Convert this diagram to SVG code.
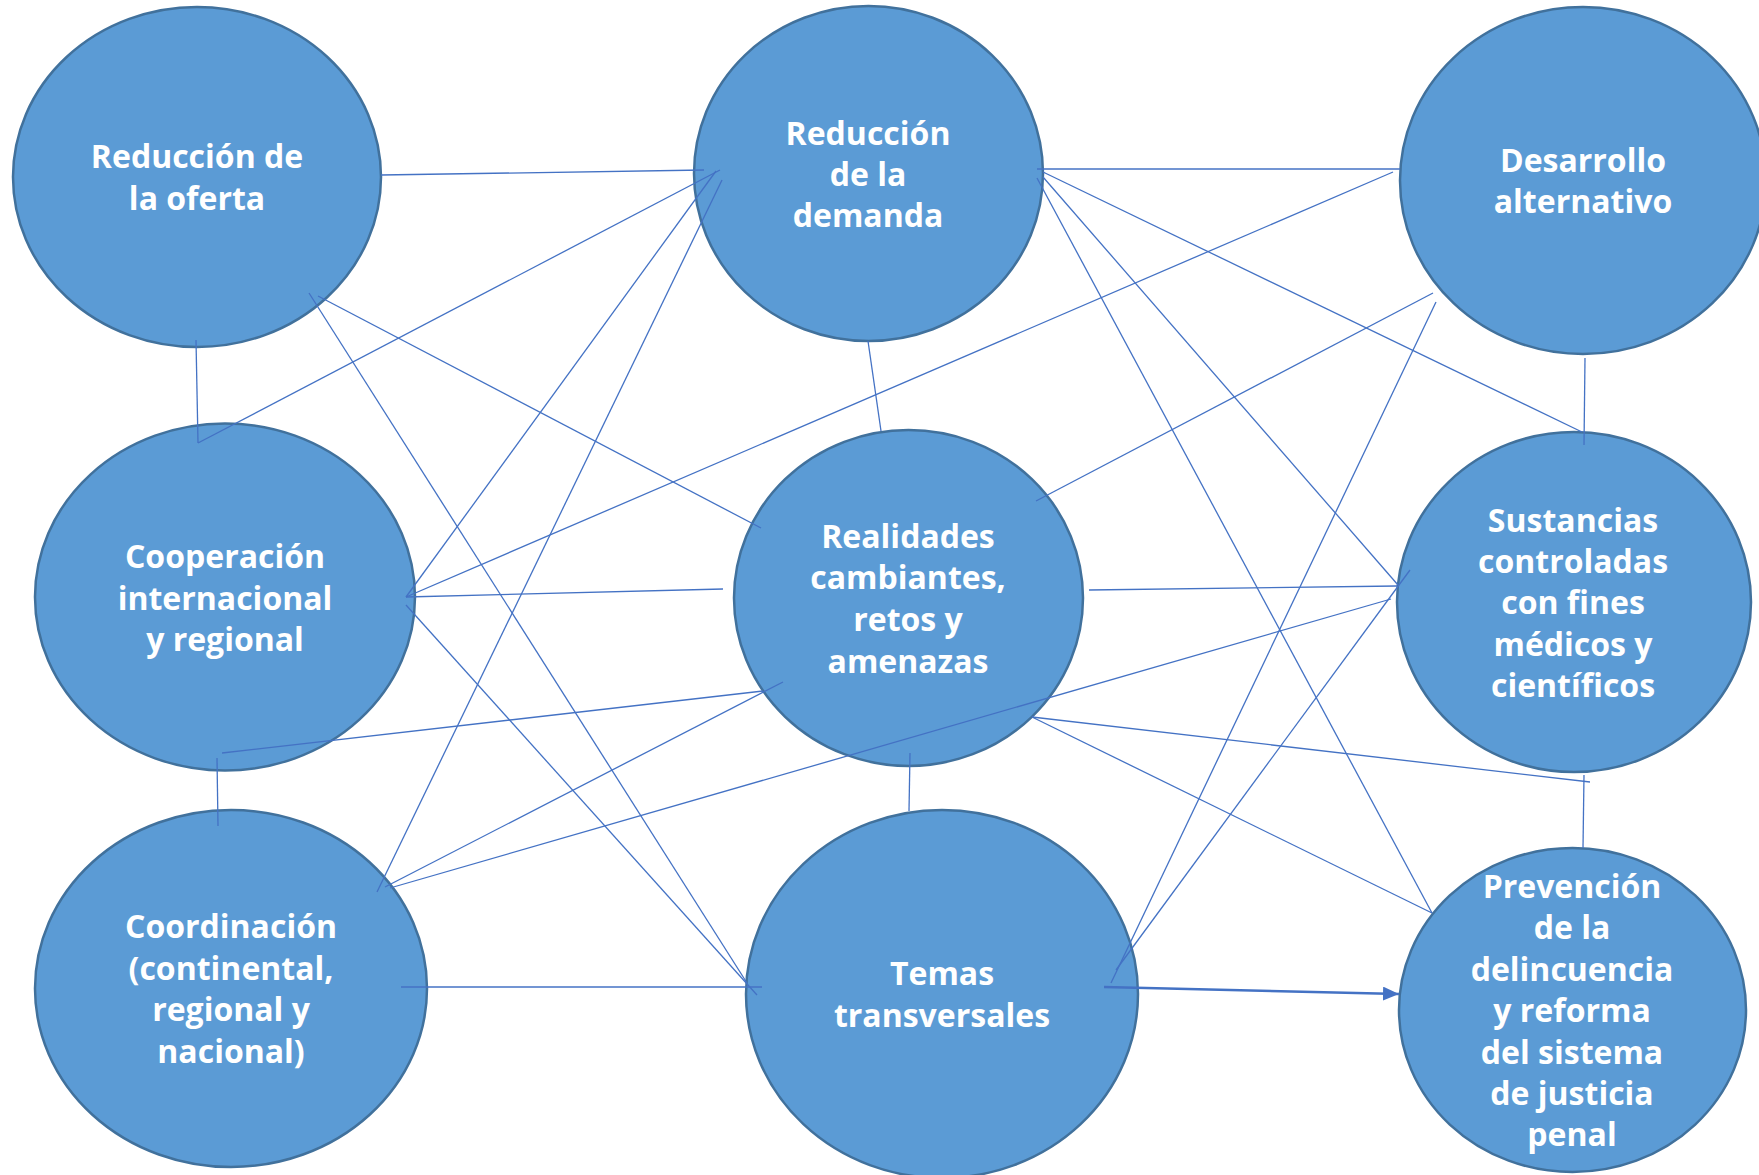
<svg xmlns="http://www.w3.org/2000/svg" width="1759" height="1175" viewBox="0 0 1759 1175">
<style>
.n{fill:#5B9BD5;stroke:#41719C;stroke-width:2.5}
.t{fill:#FFFFFF;font-family:"Open Sans","Noto Sans","DejaVu Sans",sans-serif;font-weight:700;font-size:32px;text-anchor:middle}
.c line{stroke:#4472C4;stroke-width:1.3;fill:none}
</style>
<defs>
<marker id="ah" markerUnits="userSpaceOnUse" markerWidth="18" markerHeight="16" refX="16" refY="7" orient="auto">
<path d="M0,0 L16,7 L0,14 Z" fill="#4472C4"/>
</marker>
</defs>
<rect width="1759" height="1175" fill="#FFFFFF"/>
<g id="nodes-bg">
<g id="n-oferta"><ellipse class="n" cx="197" cy="177" rx="184" ry="170"/></g>
<g id="n-demanda"><ellipse class="n" cx="868.5" cy="173.5" rx="174.5" ry="167.5"/></g>
<g id="n-desarrollo"><ellipse class="n" cx="1583" cy="180.5" rx="183" ry="173.5"/></g>
<g id="n-cooperacion"><ellipse class="n" cx="225" cy="597" rx="190" ry="173.5"/></g>
<g id="n-realidades"><ellipse class="n" cx="908.5" cy="598" rx="174.5" ry="168"/></g>
<g id="n-sustancias"><ellipse class="n" cx="1574" cy="602" rx="177" ry="170"/></g>
<g id="n-coordinacion"><ellipse class="n" cx="231" cy="988.5" rx="196" ry="178.5"/></g>
<g id="n-temas"><ellipse class="n" cx="942" cy="994" rx="196" ry="184"/></g>
<g id="n-prevencion"><ellipse class="n" cx="1572.5" cy="1010" rx="173.5" ry="162"/></g>
</g>
<g id="connectors" class="c">
<line x1="381" y1="175" x2="704" y2="170"/>
<line x1="196" y1="340" x2="198" y2="443"/>
<line x1="198" y1="443" x2="720" y2="170"/>
<line x1="406" y1="597" x2="716" y2="171"/>
<line x1="377" y1="892" x2="722" y2="180"/>
<line x1="1037" y1="169" x2="1400" y2="169"/>
<line x1="1043" y1="172" x2="1582" y2="432"/>
<line x1="1043" y1="177" x2="1398" y2="585"/>
<line x1="1037" y1="178" x2="1432" y2="913"/>
<line x1="1393" y1="172" x2="406" y2="597"/>
<line x1="1433" y1="293" x2="1036" y2="501"/>
<line x1="1436" y1="302" x2="1111" y2="983"/>
<line x1="1585" y1="358" x2="1584" y2="445"/>
<line x1="318" y1="296" x2="761" y2="528"/>
<line x1="309" y1="293" x2="747" y2="983"/>
<line x1="406" y1="605" x2="757" y2="995"/>
<line x1="406" y1="597" x2="723" y2="589"/>
<line x1="868" y1="341" x2="881" y2="431"/>
<line x1="1089" y1="590" x2="1397" y2="586"/>
<line x1="783" y1="682" x2="385" y2="887"/>
<line x1="763" y1="691" x2="222" y2="753"/>
<line x1="1391" y1="599" x2="390" y2="888"/>
<line x1="910" y1="753" x2="909" y2="811"/>
<line x1="1032" y1="717" x2="1590" y2="782"/>
<line x1="1032" y1="717" x2="1432" y2="913"/>
<line x1="1584" y1="775" x2="1583" y2="848"/>
<line x1="217" y1="758" x2="218" y2="826"/>
<line x1="401" y1="987" x2="762" y2="987"/>
<line x1="1410" y1="570" x2="1116" y2="970"/>
<line x1="1104" y1="987" x2="1399" y2="994" style="stroke-width:2.5" marker-end="url(#ah)"/>
</g>
<g id="labels">
<g id="l-oferta"><text class="t" x="197" y="168">Reducción de</text><text class="t" x="197" y="210">la oferta</text></g>
<g id="l-demanda"><text class="t" x="868" y="145">Reducción</text><text class="t" x="868" y="186">de la</text><text class="t" x="868" y="227">demanda</text></g>
<g id="l-desarrollo"><text class="t" x="1583" y="172">Desarrollo</text><text class="t" x="1583" y="213">alternativo</text></g>
<g id="l-cooperacion"><text class="t" x="225" y="568">Cooperación</text><text class="t" x="225" y="610">internacional</text><text class="t" x="225" y="651">y regional</text></g>
<g id="l-realidades"><text class="t" x="908" y="548">Realidades</text><text class="t" x="908" y="589">cambiantes,</text><text class="t" x="908" y="631">retos y</text><text class="t" x="908" y="673">amenazas</text></g>
<g id="l-sustancias"><text class="t" x="1573" y="532">Sustancias</text><text class="t" x="1573" y="573">controladas</text><text class="t" x="1573" y="614">con fines</text><text class="t" x="1573" y="656">médicos y</text><text class="t" x="1573" y="697">científicos</text></g>
<g id="l-coordinacion"><text class="t" x="231" y="938">Coordinación</text><text class="t" x="231" y="980">(continental,</text><text class="t" x="231" y="1021">regional y</text><text class="t" x="231" y="1063">nacional)</text></g>
<g id="l-temas"><text class="t" x="942" y="985">Temas</text><text class="t" x="942" y="1027">transversales</text></g>
<g id="l-prevencion"><text class="t" x="1572" y="898">Prevención</text><text class="t" x="1572" y="939">de la</text><text class="t" x="1572" y="981">delincuencia</text><text class="t" x="1572" y="1022">y reforma</text><text class="t" x="1572" y="1064">del sistema</text><text class="t" x="1572" y="1105">de justicia</text><text class="t" x="1572" y="1146">penal</text></g>
</g>
</svg>
